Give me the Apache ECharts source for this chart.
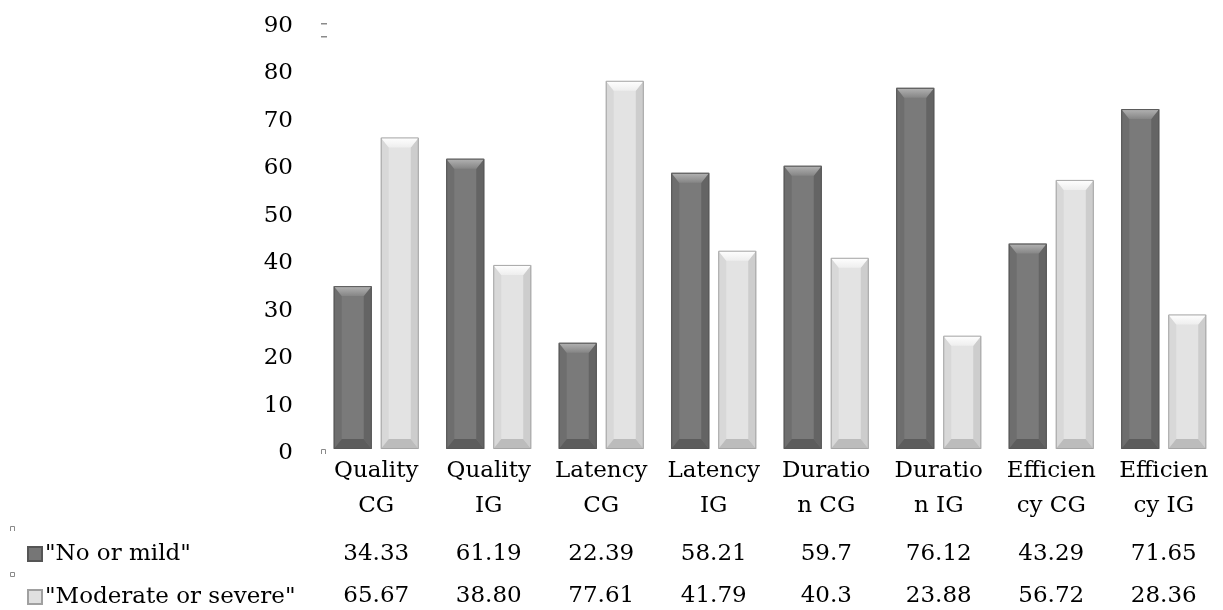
<!DOCTYPE html>
<html>
<head>
<meta charset="utf-8">
<script src="https://cdn.jsdelivr.net/npm/echarts@6/dist/echarts.min.js"></script>
<style>html,body{margin:0;padding:0;background:#fff;}#c{width:1223px;height:610px;}</style>
</head>
<body>
<div id="c"></div>
<script>
const categories = ['Quality\nCG', 'Quality\nIG', 'Latency\nCG', 'Latency\nIG', 'Duratio\nn CG', 'Duratio\nn IG', 'Efficien\ncy CG', 'Efficien\ncy IG'];
const seriesNames = ['"No or mild"', '"Moderate or severe"'];
const noOrMild = [34.33, 61.19, 22.39, 58.21, 59.7, 76.12, 43.29, 71.65];
const moderateOrSevere = [65.67, 38.80, 77.61, 41.79, 40.3, 23.88, 56.72, 28.36];
const noOrMildLabels = ['34.33', '61.19', '22.39', '58.21', '59.7', '76.12', '43.29', '71.65'];
const moderateOrSevereLabels = ['65.67', '38.80', '77.61', '41.79', '40.3', '23.88', '56.72', '28.36'];
const yTicks = { min: 0, max: 90, interval: 10 };

const FONT = 'DejaVu Serif';
const palettes = [
  { body: '#7a7a7a', left: '#6e6e6e', right: '#646464', topA: '#b4b4b4', topB: '#858585', bottom: '#5c5c5c', stroke: '#575757' },
  { body: '#e3e3e3', left: '#d8d8d8', right: '#cdcdcd', topA: '#ffffff', topB: '#eeeeee', bottom: '#bcbcbc', stroke: '#a5a5a5' }
];

function makeRender(side, pal) {
  return function (params, api) {
    const x = api.value(0), v = api.value(1);
    const base = api.coord([x, 0]);
    const top = api.coord([x, v]);
    const band = api.size([1, 0])[0];
    const w = band * 0.338;
    const off = band * 0.209 * side;
    const x0 = base[0] + off - w / 2, x1 = x0 + w;
    const y0 = top[1], y1 = base[1];
    const s = Math.min(8, w / 4);
    const t = Math.min(10, (y1 - y0) / 3);
    return {
      type: 'group',
      children: [
        { type: 'rect', shape: { x: x0, y: y0, width: w, height: y1 - y0 }, style: { fill: pal.body } },
        { type: 'polygon', shape: { points: [[x0, y0], [x0 + s, y0 + t], [x0 + s, y1 - t], [x0, y1]] }, style: { fill: pal.left } },
        { type: 'polygon', shape: { points: [[x1, y0], [x1 - s, y0 + t], [x1 - s, y1 - t], [x1, y1]] }, style: { fill: pal.right } },
        { type: 'polygon', shape: { points: [[x0, y0], [x1, y0], [x1 - s, y0 + t], [x0 + s, y0 + t]] },
          style: { fill: { type: 'linear', x: 0, y: 0, x2: 0, y2: 1, colorStops: [{ offset: 0, color: pal.topA }, { offset: 1, color: pal.topB }] } } },
        { type: 'polygon', shape: { points: [[x0, y1], [x1, y1], [x1 - s, y1 - t], [x0 + s, y1 - t]] }, style: { fill: pal.bottom } },
        { type: 'rect', shape: { x: x0 + 0.5, y: y0 + 0.5, width: w - 1, height: y1 - y0 - 1 }, style: { fill: null, stroke: pal.stroke, lineWidth: 1 } }
      ]
    };
  };
}

const chart = echarts.init(document.getElementById('c'));
chart.setOption({
  animation: false,
  backgroundColor: '#fff',
  textStyle: { fontFamily: FONT },
  grid: { left: 320, right: 3, top: 22, bottom: 161, containLabel: false },
  legend: {
    orient: 'vertical', left: 22, top: 537, height: 73,
    itemWidth: 14, itemHeight: 14, itemGap: 19,
    icon: 'rect',
    textStyle: { fontFamily: FONT, fontSize: 23, color: '#000', lineHeight: 24, padding: [0, 0, 0, -2] },
    data: seriesNames,
    selectedMode: false
  },
  xAxis: {
    type: 'category', data: categories,
    axisLine: { show: false }, axisTick: { show: false },
    axisLabel: {
      interval: 0, margin: 5,
      formatter: function (val, idx) {
        const lines = val.split('\n');
        return '{c|' + lines[0] + '}\n{c|' + lines[1] + '}\n{v1|' + noOrMildLabels[idx] + '}\n{v2|' + moderateOrSevereLabels[idx] + '}';
      },
      rich: {
        c: { fontFamily: FONT, fontSize: 23, color: '#000', lineHeight: 35 },
        v1: { fontFamily: FONT, fontSize: 23, color: '#000', lineHeight: 61 },
        v2: { fontFamily: FONT, fontSize: 23, color: '#000', lineHeight: 23 }
      }
    }
  },
  yAxis: {
    type: 'value', min: yTicks.min, max: yTicks.max, interval: yTicks.interval,
    axisLine: { show: false }, axisTick: { show: false }, splitLine: { show: false },
    axisLabel: {
      margin: 27, color: '#000',
      formatter: '{a|{value}}',
      rich: { a: { fontFamily: FONT, fontSize: 23, color: '#000', padding: [8, 0, 0, 0] } }
    }
  },
  series: [
    {
      name: seriesNames[0], type: 'custom', renderItem: makeRender(-1, palettes[0]),
      itemStyle: { color: '#767676', borderColor: '#555', borderWidth: 1 },
      encode: { x: 0, y: 1 },
      data: noOrMild.map((v, i) => [i, v])
    },
    {
      name: seriesNames[1], type: 'custom', renderItem: makeRender(1, palettes[1]),
      itemStyle: { color: '#e0e0e0', borderColor: '#a0a0a0', borderWidth: 1 },
      encode: { x: 0, y: 1 },
      data: moderateOrSevere.map((v, i) => [i, v])
    }
  ],
  graphic: [
    { type: 'rect', shape: { x: 321, y: 23, width: 6, height: 1.5 }, style: { fill: '#8a8a8a' } },
    { type: 'rect', shape: { x: 321, y: 36, width: 6, height: 1.5 }, style: { fill: '#8a8a8a' } },
    { type: 'polyline', shape: { points: [[321.5, 454], [321.5, 449.5], [325.5, 449.5], [325.5, 454]] }, style: { stroke: '#8a8a8a', lineWidth: 1, fill: null } },
    { type: 'polyline', shape: { points: [[10.5, 531], [10.5, 526.5], [14.5, 526.5], [14.5, 531]] }, style: { stroke: '#8a8a8a', lineWidth: 1, fill: null } },
    { type: 'rect', shape: { x: 10.5, y: 572.5, width: 4, height: 4 }, style: { stroke: '#8a8a8a', lineWidth: 1, fill: null } }
  ]
});
</script>
</body>
</html>
